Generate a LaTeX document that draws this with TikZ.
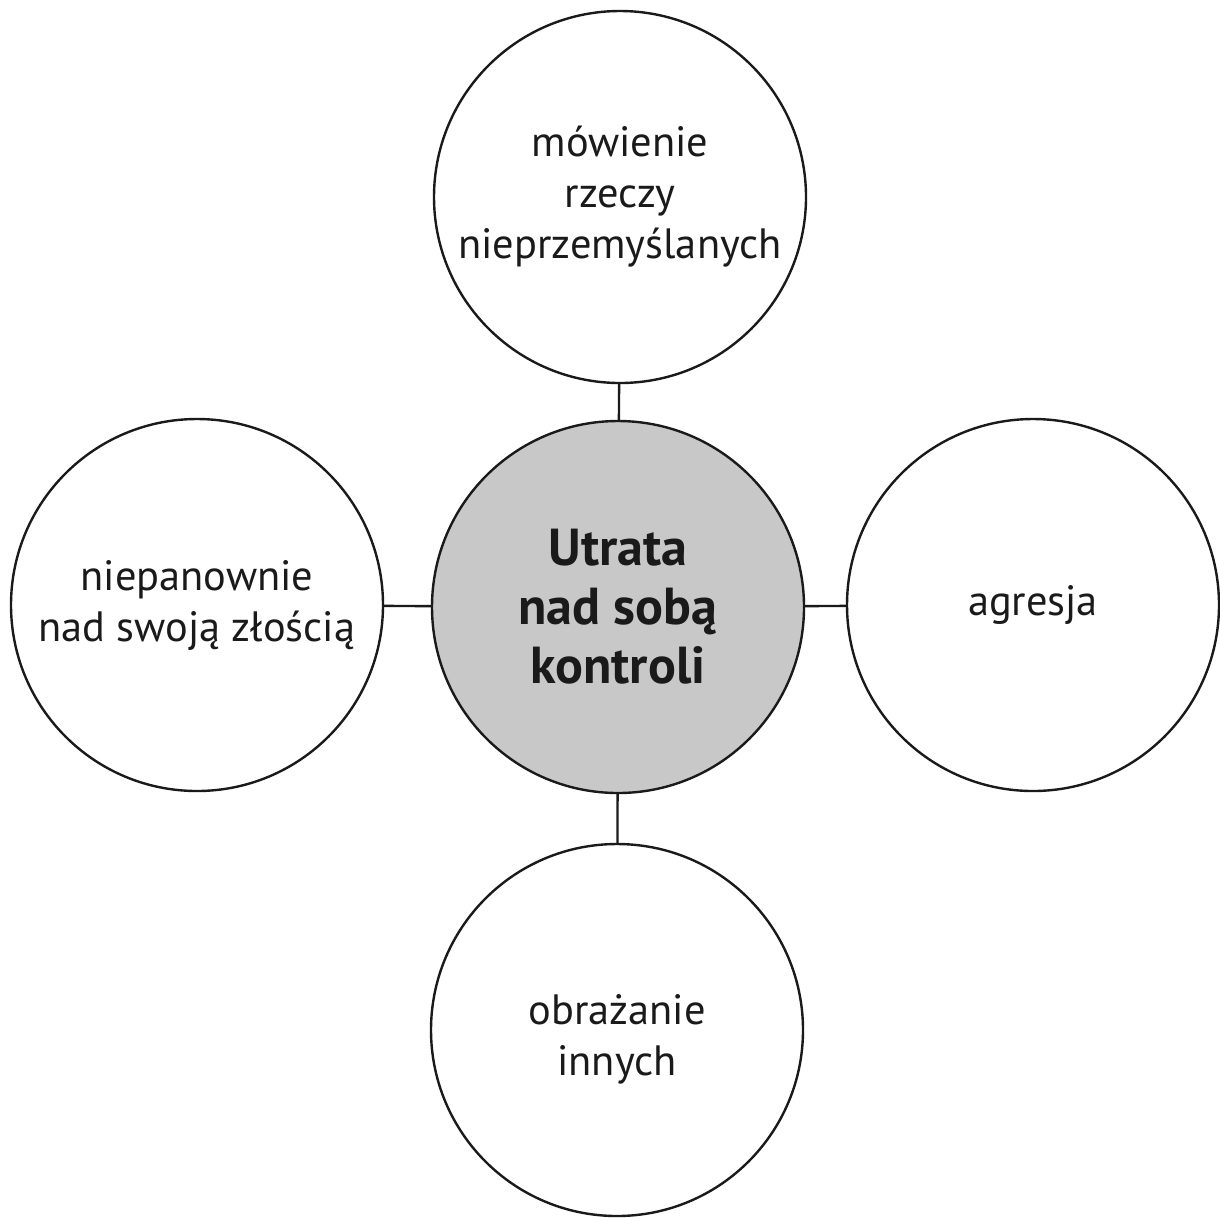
\documentclass[tikz,border=0pt]{standalone}
\usepackage{fontspec}
\setmainfont{PT Sans}
\definecolor{ink}{HTML}{1A1A1A}
\definecolor{hub}{HTML}{C8C8C8}
\begin{document}
\begin{tikzpicture}[x=0.5pt,y=-0.5pt,
  bubble/.style={circle,draw=ink,line width=1.2pt,fill=white,minimum size=186pt,inner sep=0pt,align=center,text=ink,font=\fontsize{21.2}{25.5}\selectfont},
  hubnode/.style={bubble,fill=hub,font=\fontsize{26}{29.5}\selectfont\bfseries},
  caption/.style={align=center,text=ink,inner sep=0pt,font=\fontsize{21.2}{25.5}\selectfont},
  link/.style={draw=ink,line width=1.2pt}]
\useasboundingbox (0,0) rectangle (1220,1217);
\node[hubnode] (c) at (618,607) {Utrata\\nad sobą\\kontroli};
\node[bubble] (t) at (620,197) {mówienie\\rzeczy\\nieprzemyślanych};
\node[bubble] (l) at (197,605) {niepanownie\\nad swoją złością};
\node[bubble] (r) at (1033,605) {agresja};
\node[bubble] (b) at (617,1030) {};
\node[caption] (bt) at (617,1039) {obrażanie\\innych};
\draw[link] (t) -- (c);
\draw[link] (l) -- (c);
\draw[link] (r) -- (c);
\draw[link] (b) -- (c);
\end{tikzpicture}
\end{document}
